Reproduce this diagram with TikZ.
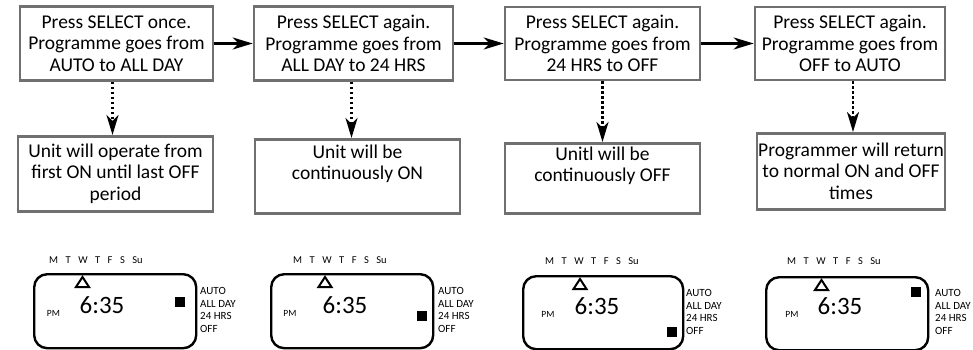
\documentclass[tikz,border=0pt]{standalone}
\usepackage{fontspec}
\setmainfont{Carlito}
\usepackage{tikz}
\usetikzlibrary{arrows.meta}
\definecolor{boxgray}{RGB}{112,112,112}
\newcommand{\weekdays}{M\hspace{7.5pt}T\hspace{7.5pt}W\hspace{7.5pt}T\hspace{7.5pt}F\hspace{7.5pt}S\hspace{7.5pt}Su}
\newcommand{\modelist}{AUTO\\ALL DAY\\24 HRS\\OFF}

\begin{document}
\begin{tikzpicture}[x=1pt, y=-1pt,
        stepbox/.style={draw=boxgray, line width=2.6pt, align=center, inner sep=0pt,
            font=\fontsize{19.5}{21.5}\selectfont},
        infobox/.style={stepbox, anchor=north},
        next/.style={line width=2.4pt, -{Stealth[length=20pt, width=12pt, inset=6pt]}},
        outcome/.style={line width=2.4pt, dash pattern=on 2.4pt off 2.6pt,
            -{Stealth[length=20pt, width=12pt, inset=6pt]}},
        lcd/.style={draw, line width=2.4pt, rounded corners=13pt, anchor=north west,
            minimum width=162pt, minimum height=74pt, inner sep=0pt},
        daytext/.style={font=\fontsize{10.5}{12}\selectfont, anchor=west, inner sep=0pt},
        timetext/.style={font=\fontsize{25}{27}\selectfont, inner sep=0pt},
        pmtext/.style={font=\fontsize{9.5}{11}\selectfont, inner sep=0pt},
        modetext/.style={font=\fontsize{11}{12.7}\selectfont, align=left, anchor=north west, inner sep=0pt},
        pointer/.style={line width=2pt, line join=miter},
        mark box/.style={fill=black, minimum size=10pt, inner sep=0pt}]
    \useasboundingbox (0,0) rectangle (973,350);

    \node[stepbox, minimum width=193pt, minimum height=74pt] (t1) at (116.5,43.5)
        {Press SELECT once.\\Programme goes from\\AUTO to ALL DAY};
    \node[stepbox, minimum width=199pt, minimum height=74pt] (t2) at (353.5,43.5)
        {Press SELECT again.\\Programme goes from\\ALL DAY to 24 HRS};
    \node[stepbox, minimum width=195pt, minimum height=73pt] (t3) at (602.5,43.5)
        {Press SELECT again.\\Programme goes from\\24 HRS to OFF};
    \node[stepbox, minimum width=190pt, minimum height=73pt] (t4) at (850,43.5)
        {Press SELECT again.\\Programme goes from\\OFF to AUTO};

    \node[infobox, minimum width=195pt, minimum height=75pt] (r1) at (115.5,135)
        {Unit will operate from\\first ON until last OFF\\period};
    \node[infobox, minimum width=205pt, minimum height=74pt] (r2) at (357.5,138)
        {Unit will be\\continuously ON\\\strut};
    \node[infobox, minimum width=195pt, minimum height=70pt] (r3) at (602.5,142)
        {Unitl will be\\continuously OFF\\\strut};
    \node[infobox, minimum width=188pt, minimum height=76pt] (r4) at (851,132)
        {Programmer will return\\to normal ON and OFF\\times};

    \draw[next] (t1) -- (t2);
    \draw[next] (t2) -- (t3);
    \draw[next] (t3) -- (t4);
    \draw[outcome] ([xshift=-4pt]t1.south) -- ([xshift=-4pt]t1.south |- r1.north);
    \draw[outcome] ([xshift=-2pt]t2.south) -- ([xshift=-2pt]t2.south |- r2.north);
    \draw[outcome] (t3.south) -- (t3.south |- r3.north);
    \draw[outcome] ([xshift=3pt]t4.south) -- ([xshift=3pt]t4.south |- r4.north);

    \begin{scope}[shift={(33,273)}]
        \node[lcd] (lcdA) at (0,0) {};
        \node[daytext] (dayA) at (16,-13) {\weekdays};
        \draw[pointer] (43,14) -- (49.5,4) -- (56,14) -- cycle;
        \node[timetext] (timeA) at (69,32.5) {6:35};
        \node[pmtext] (pmA) at (20.5,40.5) {PM};
        \node[mark box] (selA) at (147,29) {};
        \node[modetext] (modeA) at (167,14) {\modelist};
    \end{scope}

    \begin{scope}[shift={(270,273)}]
        \node[lcd] (lcdB) at (0,0) {};
        \node[daytext] (dayB) at (23,-13) {\weekdays};
        \draw[pointer] (48.5,14) -- (55,4) -- (61.5,14) -- cycle;
        \node[timetext] (timeB) at (75,32) {6:35};
        \node[pmtext] (pmB) at (20,40.5) {PM};
        \node[mark box] (selB) at (152,43) {};
        \node[modetext] (modeB) at (168,14) {\modelist};
    \end{scope}

    \begin{scope}[shift={(522,275)}]
        \node[lcd, minimum width=160pt, minimum height=73pt] (lcdC) at (0,0) {};
        \node[daytext] (dayC) at (23,-13.5) {\weekdays};
        \draw[pointer] (51.5,14) -- (58,4) -- (64.5,14) -- cycle;
        \node[timetext] (timeC) at (75,31.5) {6:35};
        \node[pmtext] (pmC) at (26,39.5) {PM};
        \node[mark box] (selC) at (150,56.5) {};
        \node[modetext] (modeC) at (164,14) {\modelist};
    \end{scope}

    \begin{scope}[shift={(765,276)}]
        \node[lcd, minimum height=73pt] (lcdD) at (0,0) {};
        \node[daytext] (dayD) at (22,-14.5) {\weekdays};
        \draw[pointer] (50,14) -- (56.5,4) -- (63,14) -- cycle;
        \node[timetext] (timeD) at (75,30.5) {6:35};
        \node[pmtext] (pmD) at (27,38.5) {PM};
        \node[mark box] (selD) at (151,16) {};
        \node[modetext] (modeD) at (170,13) {\modelist};
    \end{scope}
\end{tikzpicture}
\end{document}
